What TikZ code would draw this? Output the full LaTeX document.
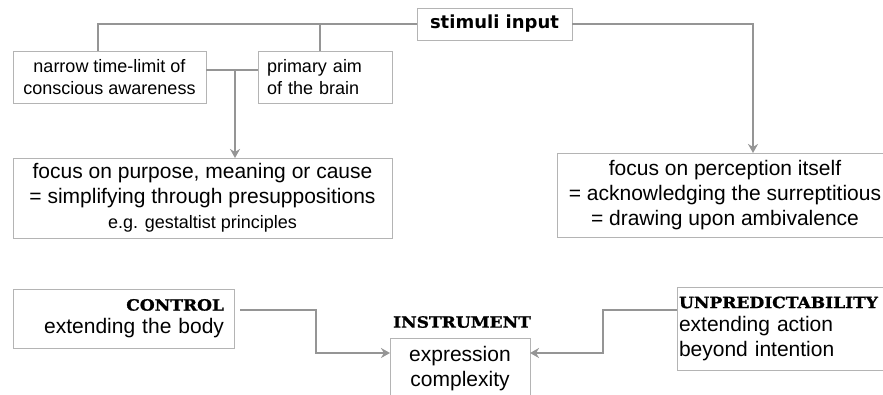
\documentclass[tikz,border=0pt]{standalone}
\usepackage{fontspec}
\setmainfont{Liberation Sans}
\newfontfamily\verdfont{DejaVu Sans}
\newfontfamily\copperfont{DejaVu Serif}[FakeStretch=1.1, BoldFeatures={FakeBold=1.2}]
\usetikzlibrary{arrows.meta}
\definecolor{boxgray}{HTML}{B4B4B4}
\definecolor{linegray}{HTML}{959595}
\tikzset{
  box/.style={draw=boxgray, line width=1pt, fill=white, inner sep=0pt, outer sep=0pt},
  conn/.style={draw=linegray, line width=2.4pt},
  arr/.style={conn, -{Stealth[length=9pt,width=10pt]}},
  big/.style={font=\fontsize{21}{25}\selectfont},
  small/.style={font=\fontsize{18}{22}\selectfont},
}
\newcommand{\capsfont}{\copperfont\bfseries\fontsize{15.5}{22}\selectfont}
\begin{document}
\begin{tikzpicture}[x=1pt,y=-1pt]
\useasboundingbox (0,0) rectangle (883,394);
\begin{scope}
\clip (0,0) rectangle (883,394);
\node[box, minimum width=155pt, minimum height=32pt] (stim) at (494.5,24)
  {\verdfont\bfseries\fontsize{18}{22}\selectfont stimuli input};
\node[box, small, minimum width=193pt, minimum height=52pt, align=center] (narrow) at (109.5,77)
  {narrow time-limit of\\conscious awareness};
\node[box, small, minimum width=134pt, minimum height=52pt, text width=116pt, inner xsep=9pt, align=left] (primary) at (325,77)
  {primary aim\\of the brain};
\node[box, big, minimum width=379pt, minimum height=80pt, align=center] (purpose) at (202.5,198)
  {focus on purpose, meaning or cause\\= simplifying through presuppositions\\{\fontsize{18}{20}\selectfont e.g. gestaltist principles}};
\node[box, big, minimum width=336pt, minimum height=84pt, align=center] (percep) at (725,195)
  {focus on perception itself\\= acknowledging the surreptitious\\= drawing upon ambivalence};
\node[box, big, minimum width=221pt, minimum height=59pt, text width=201pt, inner xsep=10pt, align=right] (control) at (123.5,318.5)
  {{\capsfont CONTROL}\\[-2pt]extending the body};
\node[box, big, minimum width=140pt, minimum height=62pt, align=center] (instr) at (460,369)
  {expression\\complexity};
\node[inner sep=0pt] (instrlabel) at (462,322) {\capsfont INSTRUMENT};
\node[box, big, minimum width=216pt, minimum height=83pt, text width=212pt, inner xsep=2pt, align=left] (unpred) at (785,328.5)
  {{\capsfont UNPREDICTABILITY}\\[-2pt]extending action\\beyond intention};

\draw[conn] (stim.west) -| ([xshift=-11.5pt]narrow.north);
\draw[conn] ([xshift=-5pt]primary.north) -- ([xshift=-5pt]primary.north |- stim.west);
\draw[arr] (stim.east) -| ([xshift=28pt]percep.north);
\draw[conn] ([yshift=7pt]narrow.east) -- ([yshift=7pt]primary.west);
\coordinate (j) at (235,70);
\draw[arr] (j) -- (j |- purpose.north);
\draw[arr] ([xshift=6pt,yshift=8.5pt]control.east) -- ++(76,0) |- ([yshift=16pt]instr.west);
\draw[arr] ([yshift=18.5pt]unpred.west) -- ++(-74,0) |- ([yshift=16pt]instr.east);
\end{scope}
\end{tikzpicture}
\end{document}
